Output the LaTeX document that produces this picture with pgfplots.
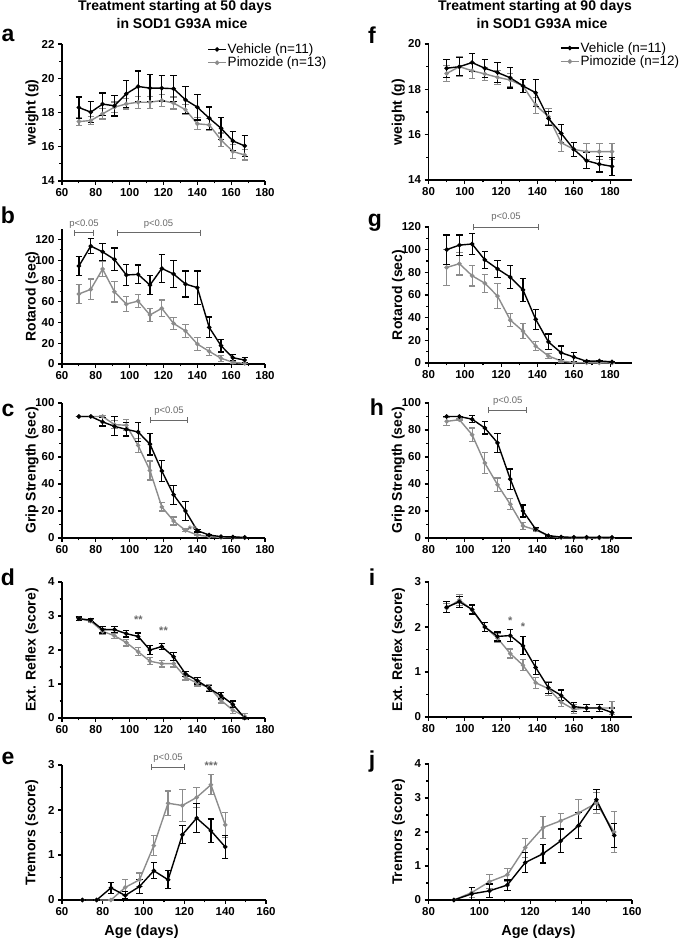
\documentclass[border=0pt]{standalone}
\usepackage{fontspec}
\setmainfont{Liberation Sans}
\usepackage{pgfplots}
\pgfplotsset{compat=1.18}
\usetikzlibrary{arrows.meta}

\definecolor{pimo}{RGB}{140,140,140}
\definecolor{sig}{RGB}{105,105,105}

\pgfplotsset{
  panel/.style={
    scale only axis,
    axis x line*=bottom, axis y line*=left,
    axis line style={line width=1.4pt,-},
    tick align=outside, major tick length=4pt, minor tick length=2.5pt,
    every tick/.append style={black,line width=1.1pt},
    minor tick num=1,
    tick label style={font=\bfseries\fontsize{11.5}{13}\selectfont},
    /pgf/number format/assume math mode=true,
    clip=false,
    ylabel style={font=\bfseries\fontsize{14}{16}\selectfont,
      at={(axis description cs:-0.148,0.5)}, anchor=center},
    xlabel style={font=\bfseries\fontsize{14.5}{16}\selectfont, anchor=center},
    legend cell align=left, reverse legend,
    legend style={draw=none, fill=none, anchor=north west, inner sep=0pt,
      row sep=0pt, font=\fontsize{13.5}{16}\selectfont,
      nodes={inner sep=1pt}},
    legend image code/.code={
      \draw[mark repeat=2,mark phase=2] plot coordinates {(0pt,0pt) (9pt,0pt) (18pt,0pt)};},
  },
  veh/.style={black, line width=1.4pt, mark=*, mark size=1.5pt,
    error bars/.cd, y dir=both, y explicit,
    error bar style={line width=1.2pt,black},
    error mark options={rotate=90,mark size=3.2pt,line width=1.2pt,black}},
  pim/.style={pimo, line width=1.4pt, mark=*, mark size=1.5pt,
    error bars/.cd, y dir=both, y explicit,
    error bar style={line width=1.2pt,pimo},
    error mark options={rotate=90,mark size=3.2pt,line width=1.2pt,pimo}},
}
\tikzset{sigbar/.style={sig, line width=0.9pt, {Bar[width=6pt]}-{Bar[width=6pt]}}}
\newcommand{\ptxt}{\fontsize{9.5}{11}\selectfont}
\newcommand{\stars}{\bfseries\fontsize{11}{12}\selectfont}

\begin{document}
\begin{tikzpicture}
\path[use as bounding box] (0pt,0pt) rectangle (685pt,941pt);

% titles and panel letters
\node[font=\bfseries\fontsize{14}{16}\selectfont] at (175pt,934pt) {Treatment starting at 50 days};
\node[font=\bfseries\fontsize{14}{16}\selectfont] at (182pt,917pt) {in SOD1 G93A mice};
\node[font=\bfseries\fontsize{14}{16}\selectfont] at (535pt,934pt) {Treatment starting at 90 days};
\node[font=\bfseries\fontsize{14}{16}\selectfont] at (542pt,917pt) {in SOD1 G93A mice};
\begin{scope}[every node/.style={font=\bfseries\fontsize{23}{25}\selectfont}]
\node at (8pt,906pt) {a};
\node at (8pt,726pt) {b};
\node at (8pt,531pt) {c};
\node at (8pt,364pt) {d};
\node at (8pt,183pt) {e};
\node at (372pt,906pt) {f};
\node at (375pt,718pt) {g};
\node at (377pt,534pt) {h};
\node at (372pt,364pt) {i};
\node at (372pt,179pt) {j};
\end{scope}

% ---------- a ----------
\begin{axis}[panel, at={(62pt,760pt)}, anchor=south west,
  width=203pt, height=137pt, xmin=60, xmax=180, ymin=14, ymax=22,
  xtick={60,80,...,180}, ytick={14,16,...,22}, ylabel={weight (g)},
  legend style={at={(axis description cs:0.715,1.01)}}]
\addplot[pim] table[x=x,y=y,y error=e,row sep=\\] {
x y e\\ 70 17.47 0.25\\ 77 17.53 0.25\\ 84 17.92 0.3\\ 91 18.31 0.3\\
98 18.5 0.3\\ 105 18.6 0.35\\ 112 18.6 0.35\\ 119 18.7 0.35\\ 126 18.55 0.35\\
133 18.16 0.3\\ 140 17.34 0.35\\ 147 17.28 0.35\\ 154 16.4 0.4\\ 161 15.72 0.4\\
168 15.52 0.3\\};
\addlegendentry{Pimozide (n=13)}
\addplot[veh] table[x=x,y=y,y error=e,row sep=\\] {
x y e\\ 70 18.29 0.62\\ 77 18.02 0.6\\ 84 18.49 0.65\\ 91 18.39 0.6\\
98 19.09 0.8\\ 105 19.52 0.9\\ 112 19.42 0.8\\ 119 19.42 0.75\\ 126 19.39 0.75\\
133 18.74 0.8\\ 140 18.31 0.75\\ 147 17.67 0.65\\ 154 17.08 0.65\\ 161 16.34 0.55\\
168 16.05 0.6\\};
\addlegendentry{Vehicle (n=11)}
\end{axis}

% ---------- b ----------
\begin{axis}[panel, at={(62pt,577pt)}, anchor=south west,
  width=203pt, height=135pt, xmin=60, xmax=180, ymin=0, ymax=130,
  xtick={60,80,...,180}, ytick={0,20,...,120}, ylabel={Rotarod (sec)}]
\addplot[pim] table[x=x,y=y,y error=e,row sep=\\] {
x y e\\ 70 67.4 9\\ 77 71.9 10\\ 84 91.4 7\\ 91 69.6 10\\ 98 57.7 7\\
105 60.6 6\\ 112 47.2 6\\ 119 53.6 8\\ 126 39 6\\ 133 31.8 6\\ 140 19.2 6\\
147 12.2 4\\ 154 5.5 3\\ 161 1.6 1\\ 168 0.6 0.5\\};
\addplot[veh] table[x=x,y=y,y error=e,row sep=\\] {
x y e\\ 70 94.3 9\\ 77 113.6 7.5\\ 84 108 8\\ 91 100.7 11\\ 98 85.7 10\\
105 86.3 9\\ 112 76 9\\ 119 92 13.5\\ 126 86.6 13\\ 133 77 12.5\\ 140 73.5 16\\
147 35.3 10\\ 154 17.6 6\\ 161 6 3\\ 168 3.8 2.5\\};
\draw[sigbar] (axis cs:67.3,126.4) -- (axis cs:78.7,126.4);
\node[sig, font=\ptxt, anchor=south] at (axis cs:73,127.5) {p<0.05};
\draw[sigbar] (axis cs:92.5,126.4) -- (axis cs:142,126.4);
\node[sig, font=\ptxt, anchor=south] at (axis cs:117,127.5) {p<0.05};
\end{axis}

% ---------- c ----------
\begin{axis}[panel, at={(62pt,403pt)}, anchor=south west,
  width=203pt, height=135pt, xmin=60, xmax=180, ymin=0, ymax=100,
  xtick={60,80,...,180}, ytick={0,20,...,100}, ylabel={Grip Strength (sec)}]
\addplot[pim] table[x=x,y=y,y error=e,row sep=\\] {
x y e\\ 70 90 0\\ 77 90 0\\ 84 90 0.5\\ 91 84 3\\ 98 83.5 4\\ 105 68.6 5\\
112 50 7\\ 119 23 3\\ 126 12.6 3\\ 133 5.6 1\\ 140 2.2 0.5\\ 147 1 0\\
154 0.5 0\\ 161 0.3 0\\ 168 0.2 0\\};
\addplot[veh] table[x=x,y=y,y error=e,row sep=\\] {
x y e\\ 70 90 0\\ 77 90 0\\ 84 86 3\\ 91 82.7 7\\ 98 80.5 5\\ 105 78.5 7\\
112 69.5 8\\ 119 49.6 8\\ 126 32 7\\ 133 20 7\\ 140 5.4 1\\ 147 2.2 0.5\\
154 1 0\\ 161 0.7 0\\ 168 0.5 0\\};
\draw[sigbar] (axis cs:112.1,87.4) -- (axis cs:134.4,87.4);
\node[sig, font=\ptxt, anchor=south] at (axis cs:123.2,88.5) {p<0.05};
\node[sig, font=\stars] at (axis cs:137,6.5) {**};
\end{axis}

% ---------- d ----------
\begin{axis}[panel, at={(62pt,223pt)}, anchor=south west,
  width=203pt, height=136pt, xmin=60, xmax=180, ymin=0, ymax=4,
  xtick={60,80,...,180}, ytick={0,1,...,4}, ylabel={Ext. Reflex (score)}]
\addplot[pim] table[x=x,y=y,y error=e,row sep=\\] {
x y e\\ 70 2.92 0.05\\ 77 2.85 0.05\\ 84 2.55 0.08\\ 91 2.42 0.08\\
98 2.22 0.1\\ 105 1.95 0.12\\ 112 1.67 0.1\\ 119 1.6 0.1\\ 126 1.6 0.1\\
133 1.2 0.08\\ 140 1.02 0.08\\ 147 0.9 0.08\\ 154 0.52 0.08\\ 161 0.23 0.1\\
168 0.05 0.08\\};
\addplot[veh] table[x=x,y=y,y error=e,row sep=\\] {
x y e\\ 70 2.92 0.05\\ 77 2.88 0.05\\ 84 2.6 0.1\\ 91 2.6 0.08\\
98 2.48 0.1\\ 105 2.4 0.1\\ 112 2.0 0.13\\ 119 2.1 0.08\\ 126 1.8 0.12\\
133 1.3 0.07\\ 140 1.1 0.1\\ 147 0.87 0.08\\ 154 0.66 0.1\\ 161 0.4 0.1\\
168 0.0 0.02\\};
\node[sig, font=\stars] at (axis cs:105.2,2.88) {**};
\node[sig, font=\stars] at (axis cs:120,2.56) {**};
\end{axis}

% ---------- e ----------
\begin{axis}[panel, at={(62pt,41pt)}, anchor=south west,
  width=204pt, height=135pt, xmin=60, xmax=160, ymin=0, ymax=3,
  xtick={60,80,...,160}, ytick={0,1,2,3}, ylabel={Tremors (score)},
  xlabel={Age (days)}, xlabel style={at={(axis description cs:0.39,-0.235)}}]
\addplot[pim] table[x=x,y=y,y error=e,row sep=\\] {
x y e\\ 70 0 0\\ 77 0 0\\ 84 0 0\\ 91 0.28 0.18\\ 98 0.45 0.15\\
105 1.21 0.22\\ 112 2.15 0.27\\ 119 2.1 0.35\\ 126 2.28 0.22\\ 133 2.56 0.22\\
140 1.67 0.28\\};
\addplot[veh] table[x=x,y=y,y error=e,row sep=\\] {
x y e\\ 70 0 0\\ 77 0 0\\ 84 0.27 0.12\\ 91 0.1 0.08\\ 98 0.3 0.15\\
105 0.65 0.18\\ 112 0.45 0.2\\ 119 1.45 0.2\\ 126 1.82 0.32\\ 133 1.54 0.26\\
140 1.18 0.26\\};
\draw[sigbar] (axis cs:103.8,2.95) -- (axis cs:120.3,2.95);
\node[sig, font=\ptxt, anchor=south] at (axis cs:112,2.98) {p<0.05};
\node[sig, font=\stars] at (axis cs:133.1,2.98) {***};
\end{axis}

% ---------- f ----------
\begin{axis}[panel, at={(428.5pt,761pt)}, anchor=south west,
  width=203.5pt, height=136pt, xmin=80, xmax=192, ymin=14, ymax=20,
  xtick={80,100,...,180}, ytick={14,16,...,20}, ylabel={weight (g)},
  legend style={at={(axis description cs:0.646,1.02)}}]
\addplot[pim] table[x=x,y=y,y error=e,row sep=\\] {
x y e\\ 90 18.7 0.35\\ 97 19.0 0.45\\ 104 18.82 0.35\\ 111 18.68 0.3\\
118 18.53 0.3\\ 125 18.41 0.3\\ 132 18.15 0.3\\ 139 17.3 0.35\\ 146 16.8 0.35\\
153 15.65 0.4\\ 160 15.35 0.3\\ 167 15.25 0.35\\ 174 15.25 0.35\\ 181 15.25 0.35\\};
\addlegendentry{Pimozide (n=12)}
\addplot[veh] table[x=x,y=y,y error=e,row sep=\\] {
x y e\\ 90 18.93 0.4\\ 97 19.0 0.4\\ 104 19.18 0.4\\ 111 18.93 0.4\\
118 18.74 0.45\\ 125 18.51 0.45\\ 132 18.15 0.3\\ 139 17.85 0.6\\ 146 16.72 0.3\\
153 16.06 0.4\\ 160 15.35 0.3\\ 167 14.85 0.35\\ 174 14.7 0.35\\ 181 14.6 0.4\\};
\addlegendentry{Vehicle (n=11)}
\end{axis}

% ---------- g ----------
\begin{axis}[panel, at={(428.5pt,578pt)}, anchor=south west,
  width=203.5pt, height=136pt, xmin=80, xmax=192, ymin=0, ymax=120,
  xtick={80,100,...,180}, ytick={0,20,...,120}, ylabel={Rotarod (sec)}]
\addplot[pim] table[x=x,y=y,y error=e,row sep=\\] {
x y e\\ 90 84.3 16\\ 97 87.6 10\\ 104 77 9\\ 111 70.4 8\\ 118 59 11\\
125 37.9 6\\ 132 28.1 6.5\\ 139 14.8 4\\ 146 6.2 2\\ 153 1.8 1\\ 160 0.3 0\\
167 0.2 0\\ 174 0.1 0\\ 181 0 0\\};
\addplot[veh] table[x=x,y=y,y error=e,row sep=\\] {
x y e\\ 90 100 13\\ 97 104 9\\ 104 105 9.5\\ 111 91 7.5\\ 118 83 7.5\\
125 75.7 10\\ 132 64.5 10\\ 139 38.5 9\\ 146 18.6 7\\ 153 9 6\\ 160 5.3 4\\
167 1.5 0.5\\ 174 1.8 0.5\\ 181 1 0.3\\};
\draw[sigbar] (axis cs:104.7,120) -- (axis cs:140.6,120);
\node[sig, font=\ptxt, anchor=south] at (axis cs:122.6,121.5) {p<0.05};
\end{axis}

% ---------- h ----------
\begin{axis}[panel, at={(428.5pt,403pt)}, anchor=south west,
  width=203.5pt, height=135pt, xmin=80, xmax=192, ymin=0, ymax=100,
  xtick={80,100,...,180}, ytick={0,20,...,100}, ylabel={Grip Strength (sec)}]
\addplot[pim] table[x=x,y=y,y error=e,row sep=\\] {
x y e\\ 90 86.4 3\\ 97 87.6 0.5\\ 104 76.5 5\\ 111 55.5 8\\ 118 39.4 5\\
125 25 4\\ 132 8.9 2.5\\ 139 6 1\\ 146 1.5 0.5\\ 153 0.3 0\\ 160 0.1 0\\
167 0 0\\ 174 0 0\\ 181 0 0\\};
\addplot[veh] table[x=x,y=y,y error=e,row sep=\\] {
x y e\\ 90 90 0\\ 97 90 0\\ 104 88 2.5\\ 111 81.5 4.5\\ 118 70.5 7\\
125 43.6 7.5\\ 132 20 4.5\\ 139 6.5 1\\ 146 1.7 0.3\\ 153 0.7 0\\ 160 0.5 0\\
167 0.5 0\\ 174 0.5 0\\ 181 0.5 0\\};
\draw[sigbar] (axis cs:112.9,94.8) -- (axis cs:134.4,94.8);
\node[sig, font=\ptxt, anchor=south] at (axis cs:123.6,95.8) {p<0.05};
\end{axis}

% ---------- i ----------
\begin{axis}[panel, at={(428.5pt,224pt)}, anchor=south west,
  width=203.5pt, height=135pt, xmin=80, xmax=192, ymin=0, ymax=3,
  xtick={80,100,...,180}, ytick={0,1,2,3}, ylabel={Ext. Reflex (score)}]
\addplot[pim] table[x=x,y=y,y error=e,row sep=\\] {
x y e\\ 90 2.42 0.1\\ 97 2.6 0.12\\ 104 2.38 0.1\\ 111 2.0 0.1\\ 118 1.75 0.1\\
125 1.41 0.1\\ 132 1.15 0.12\\ 139 0.76 0.12\\ 146 0.63 0.15\\ 153 0.33 0.1\\
160 0.17 0.1\\ 167 0.2 0.08\\ 174 0.2 0.08\\ 181 0.2 0.15\\};
\addplot[veh] table[x=x,y=y,y error=e,row sep=\\] {
x y e\\ 90 2.44 0.12\\ 97 2.56 0.12\\ 104 2.39 0.1\\ 111 2.0 0.1\\ 118 1.79 0.1\\
125 1.81 0.13\\ 132 1.58 0.2\\ 139 1.1 0.15\\ 146 0.65 0.12\\ 153 0.48 0.12\\
160 0.23 0.1\\ 167 0.2 0.08\\ 174 0.2 0.08\\ 181 0.1 0.1\\};
\node[sig, font=\stars] at (axis cs:125,2.15) {*};
\node[sig, font=\stars] at (axis cs:132,2.0) {*};
\end{axis}

% ---------- j ----------
\begin{axis}[panel, at={(428.5pt,41pt)}, anchor=south west,
  width=203.5pt, height=136pt, xmin=80, xmax=160, ymin=0, ymax=4,
  xtick={80,100,...,160}, ytick={0,1,...,4}, ylabel={Tremors (score)},
  xlabel={Age (days)}, xlabel style={at={(axis description cs:0.54,-0.235)}}]
\addplot[pim] table[x=x,y=y,y error=e,row sep=\\] {
x y e\\ 90 0 0\\ 97 0.22 0.15\\ 104 0.54 0.2\\ 111 0.74 0.18\\ 118 1.54 0.28\\
125 2.13 0.32\\ 132 2.33 0.22\\ 139 2.56 0.4\\ 146 2.85 0.3\\ 153 2.0 0.6\\};
\addplot[veh] table[x=x,y=y,y error=e,row sep=\\] {
x y e\\ 90 0 0\\ 97 0.18 0.18\\ 104 0.27 0.2\\ 111 0.44 0.15\\ 118 1.1 0.3\\
125 1.36 0.27\\ 132 1.74 0.35\\ 139 2.19 0.38\\ 146 2.95 0.3\\ 153 1.9 0.35\\};
\end{axis}
\end{tikzpicture}
\end{document}
